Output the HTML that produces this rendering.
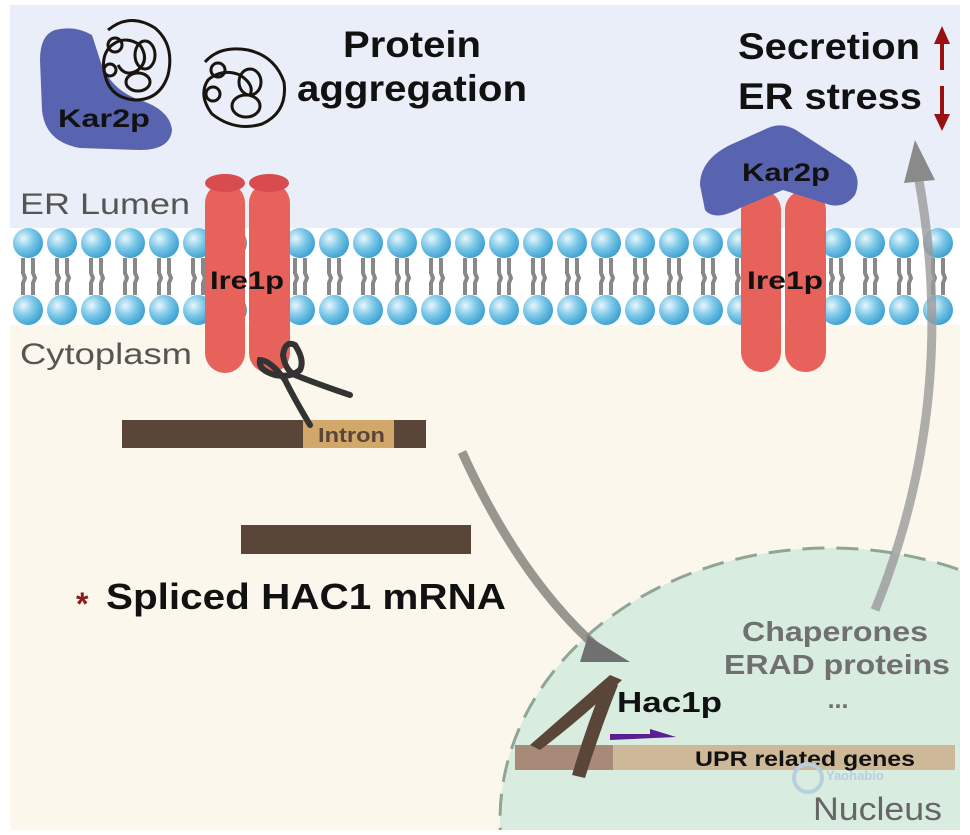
<!DOCTYPE html>
<html><head><meta charset="utf-8"><style>
html,body{margin:0;background:#fff;width:970px;height:835px;overflow:hidden;}
svg{display:block;font-family:"Liberation Sans",Arial,sans-serif;}
</style></head><body>
<svg width="970" height="835" viewBox="0 0 970 835">
<defs>
<radialGradient id="hg" cx="0.35" cy="0.35" r="0.7"><stop offset="0" stop-color="#e8f6fc"/><stop offset="0.5" stop-color="#7cc8e8"/><stop offset="1" stop-color="#3a9fd0"/></radialGradient>
<clipPath id="pc"><rect x="10" y="5" width="950" height="825"/></clipPath>
<g id="lip"><circle cx="0" cy="0" r="15" fill="url(#hg)"/><circle cx="0" cy="67" r="15" fill="url(#hg)"/>
<path d="M-5 15 L-5 30 L-3 35 L-5 40 L-5 52 M5 15 L5 30 L7 35 L5 40 L5 52" stroke="#888" stroke-width="4" fill="none"/></g>
</defs>
<g clip-path="url(#pc)">
<rect x="10" y="5" width="950" height="225" fill="#e9eef8"/>
<rect x="10" y="228" width="950" height="97" fill="#fff"/>
<rect x="10" y="325" width="950" height="510" fill="#fcf7ec"/>
<g>
<use href="#lip" x="28" y="243"/><use href="#lip" x="62" y="243"/><use href="#lip" x="96" y="243"/><use href="#lip" x="130" y="243"/><use href="#lip" x="164" y="243"/><use href="#lip" x="198" y="243"/><use href="#lip" x="232" y="243"/><use href="#lip" x="300" y="243"/><use href="#lip" x="334" y="243"/><use href="#lip" x="368" y="243"/><use href="#lip" x="402" y="243"/><use href="#lip" x="436" y="243"/><use href="#lip" x="470" y="243"/><use href="#lip" x="504" y="243"/><use href="#lip" x="538" y="243"/><use href="#lip" x="572" y="243"/><use href="#lip" x="606" y="243"/><use href="#lip" x="640" y="243"/><use href="#lip" x="674" y="243"/><use href="#lip" x="708" y="243"/><use href="#lip" x="742" y="243"/><use href="#lip" x="836" y="243"/><use href="#lip" x="870" y="243"/><use href="#lip" x="904" y="243"/><use href="#lip" x="938" y="243"/>
</g>
<!-- nucleus -->
<ellipse cx="830" cy="820" rx="330" ry="272" fill="#d8ecdf" stroke="#8fa595" stroke-width="3" stroke-dasharray="22 12"/>
<!-- left Ire1p -->
<rect x="205" y="183" width="40" height="190" rx="20" fill="#e8625c"/>
<ellipse cx="225" cy="183" rx="20" ry="9" fill="#d84c4f"/>
<rect x="249" y="183" width="41" height="190" rx="20" fill="#e8625c"/>
<ellipse cx="269" cy="183" rx="20" ry="9" fill="#d84c4f"/>
<text x="210" y="289" font-size="25" font-weight="bold" textLength="74" lengthAdjust="spacingAndGlyphs" fill="#111">Ire1p</text>
<!-- right Ire1p -->
<rect x="741" y="190" width="40" height="182" rx="20" fill="#e8625c"/>
<rect x="785" y="190" width="41" height="182" rx="20" fill="#e8625c"/>
<path d="M700 185 Q700 160 730 145 L768 128 Q782 122 796 130 L850 165 Q862 178 855 195 Q845 208 830 205 L783 190 L740 208 Q715 222 705 210 Z" fill="#5864b0"/>
<text x="742" y="181" font-size="25" font-weight="bold" textLength="88" lengthAdjust="spacingAndGlyphs" fill="#111">Kar2p</text>
<text x="747" y="289" font-size="25" font-weight="bold" textLength="76" lengthAdjust="spacingAndGlyphs" fill="#111">Ire1p</text>
<!-- Kar2p left -->
<path d="M55 30 Q75 25 92 35 L100 60 Q110 90 140 100 Q170 110 172 130 Q170 150 140 150 L80 148 Q45 142 42 110 L40 60 Q40 35 55 30 Z" fill="#5864b0"/>
<text x="58" y="127" font-size="25" font-weight="bold" textLength="92" lengthAdjust="spacingAndGlyphs" fill="#111">Kar2p</text>
<!-- aggregates -->
<g fill="none" stroke="#1a1410" stroke-width="3">
<path d="M108 30 Q130 12 155 28 Q175 45 168 75 Q160 100 135 100 Q110 98 105 75 Q100 55 112 45 Q125 35 140 45 Q150 60 138 70 Q125 78 118 65"/>
<circle cx="115" cy="45" r="7"/><circle cx="110" cy="70" r="6"/><ellipse cx="145" cy="55" rx="10" ry="14"/><ellipse cx="138" cy="82" rx="12" ry="9"/>
<path d="M205 62 Q220 45 248 50 Q275 56 284 82 Q288 112 262 124 Q235 132 212 114 Q198 95 208 80 Q222 68 240 75 Q255 85 250 95"/>
<circle cx="218" cy="70" r="7"/><circle cx="213" cy="94" r="7"/><ellipse cx="250" cy="82" rx="11" ry="13"/><ellipse cx="246" cy="106" rx="14" ry="11"/>
</g>
<text x="343" y="57" font-size="37" font-weight="bold" textLength="138" lengthAdjust="spacingAndGlyphs" fill="#111">Protein</text>
<text x="297" y="101" font-size="37" font-weight="bold" textLength="230" lengthAdjust="spacingAndGlyphs" fill="#111">aggregation</text>
<text x="738" y="59" font-size="37" font-weight="bold" textLength="182" lengthAdjust="spacingAndGlyphs" fill="#111">Secretion</text>
<text x="738" y="109" font-size="37" font-weight="bold" textLength="184" lengthAdjust="spacingAndGlyphs" fill="#111">ER stress</text>
<path d="M942 70 L942 40" stroke="#9a1010" stroke-width="4"/><path d="M934 44 L942 26 L950 44 Z" fill="#9a1010"/>
<path d="M942 86 L942 118" stroke="#9a1010" stroke-width="4"/><path d="M934 114 L942 131 L950 114 Z" fill="#9a1010"/>
<text x="20" y="214" font-size="30" textLength="170" lengthAdjust="spacingAndGlyphs" fill="#555">ER Lumen</text>
<text x="20" y="364" font-size="30" textLength="172" lengthAdjust="spacingAndGlyphs" fill="#555">Cytoplasm</text>
<!-- Intron mRNA -->
<rect x="122" y="420" width="304" height="28" fill="#5a4638"/>
<rect x="303" y="420" width="91" height="28" fill="#d2a86a"/>
<text x="318" y="442" font-size="20" font-weight="bold" textLength="67" lengthAdjust="spacingAndGlyphs" fill="#5a4638">Intron</text>
<!-- scissors -->
<g fill="none" stroke="#333" stroke-width="6" stroke-linecap="round">
<path d="M310 425 Q295 400 285 380 Q270 360 260 360 Q258 370 275 375 Q290 378 300 370 Q305 360 295 345 Q285 340 283 355 Q285 370 295 375 Q320 385 350 395"/>
</g>
<!-- spliced -->
<rect x="241" y="525" width="230" height="29" fill="#5a4638"/>
<text x="76" y="615" font-size="32" font-weight="bold" fill="#8b1a1a">*</text>
<text x="106" y="609" font-size="36" font-weight="bold" textLength="400" lengthAdjust="spacingAndGlyphs" fill="#111">Spliced HAC1 mRNA</text>
<!-- curved arrows -->
<path d="M462 452 Q520 580 600 650" stroke="#85857f" stroke-width="9" fill="none" opacity="0.85"/>
<path d="M588 636 L630 662 L580 662 Z" fill="#707070"/>
<path d="M875 610 Q960 400 918 175" stroke="#9a9a9a" stroke-width="9" fill="none" opacity="0.8"/>
<path d="M904 183 L915 140 L935 180 Z" fill="#8a8a8a"/>
<!-- nucleus content -->
<text x="742" y="641" font-size="28" font-weight="bold" textLength="186" lengthAdjust="spacingAndGlyphs" fill="#707070">Chaperones</text>
<text x="724" y="674" font-size="28" font-weight="bold" textLength="226" lengthAdjust="spacingAndGlyphs" fill="#707070">ERAD proteins</text>
<text x="838" y="708" font-size="25" font-weight="bold" text-anchor="middle" fill="#707070">...</text>
<rect x="515" y="745" width="440" height="25" fill="#cdb898"/>
<rect x="515" y="745" width="98" height="25" fill="#a88a78"/>
<text x="695" y="766" font-size="21" font-weight="bold" textLength="220" lengthAdjust="spacingAndGlyphs" fill="#111">UPR related genes</text>
<path d="M610 734 L650 734 L650 729 L676 737 L610 740 Z" fill="#5a1f90"/>
<path d="M530 745 Q570 710 610 675 L622 680 Q580 720 540 750 Z" fill="#5a4638"/>
<path d="M605 680 L618 685 Q600 730 585 778 L572 775 Q585 730 605 680 Z" fill="#5a4638"/>
<text x="617" y="712" font-size="29" font-weight="bold" textLength="105" lengthAdjust="spacingAndGlyphs" fill="#111">Hac1p</text>
<text x="813" y="820" font-size="32" textLength="129" lengthAdjust="spacingAndGlyphs" fill="#666">Nucleus</text>
<circle cx="808" cy="778" r="14" fill="none" stroke="#b8cfe0" stroke-width="4"/>
<text x="826" y="780" font-size="13" font-weight="bold" fill="#b8cfe0">Yaohabio</text>
</g>
</svg>
</body></html>
